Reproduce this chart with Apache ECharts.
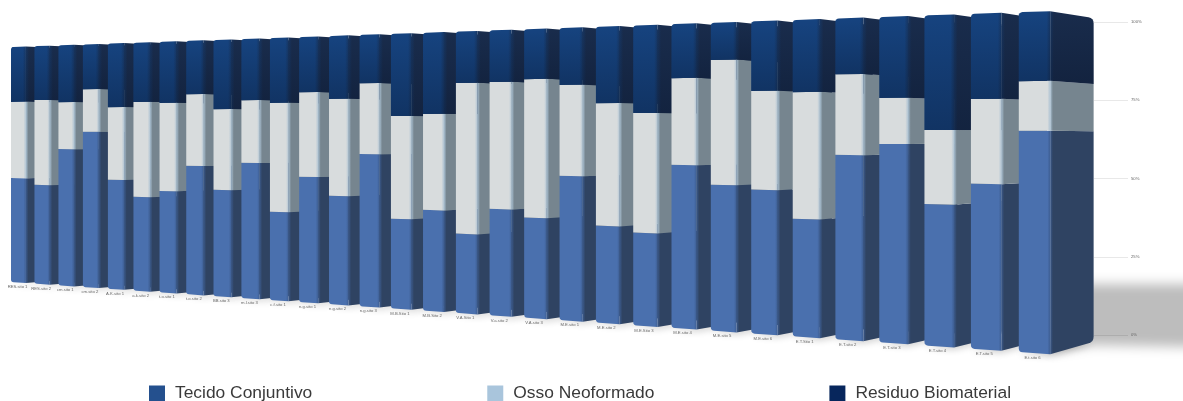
<!DOCTYPE html>
<html>
<head>
<meta charset="utf-8">
<style>html,body{margin:0;padding:0;background:#fff}#chart{width:1183px;height:401px}</style>
<script src="https://cdn.jsdelivr.net/npm/echarts@6/dist/echarts.min.js"></script>
</head>
<body>
<div id="chart"></div>
<script>
// Percent composition of each site
const sites = ['RES.sito 1','RES.sito 2','cm.sito 1','cm.sito 2','A.K.sito 1','a.k.sito 2','t.o.sito 1','t.o.sito 2','BB.sito 3','m.l.sito 3','c.f.sito 1',
  'n.g.sito 1','n.g.sito 2','n.g.sito 3','M.B.Sito 1','M.B.Sito 2','V.A.Sito 1','V.a.sito 2','V.A.sito 3','M.E.sito 1','M.E.sito 2','M.E.Sito 3','M.E.sito 4','M.E.sito 5','M.E.sito 6',
  'E.T.Sito 1','E.T.sito 2','E.T.sito 3','E.T.sito 4','E.T.sito 5','E.t.sito 6'];
const tecido = [44.3,41.6,56.8,64,44.5,37.8,40.5,50.7,41.5,52.2,33.7,47.3,40.4,56.1,32.7,36.3,28.2,37.4,34.7,49.4,32.8,30.9,53.7,47.4,46.1,37.2,57.5,61,42.9,49.3,65.1];
const osso = [32.3,35.7,19.5,17.6,29.6,38.3,35.1,28.3,31.5,24.2,41.5,31.9,36.1,26.1,37.4,34.5,53.5,44.5,48,31.1,41.4,39.9,28.5,40.5,31.6,40,25.1,14.1,22.4,25.3,14.6];
const residuo = [23.4,22.7,23.7,18.4,25.9,23.9,24.4,21,27,23.6,24.8,20.8,23.5,17.8,29.9,29.2,18.3,18.1,17.3,19.5,25.8,29.2,17.8,12.1,22.3,22.8,17.4,24.9,34.7,25.4,20.3];

// Camera: homogeneous projection of (bar position, percent, depth) to the screen
function project(u, v, z) {
  const w = 1 - 0.01028 * u + 0.041 * z;
  return [(11 + 23.12 * u + 74.6 * z) / w, (282 - 1.285 * u - 2.35 * v + 5.58 * z) / w, 1 / w];
}
const FRONT = 0.64;
const FAR = 2200;

function roundCorner(a, b, c, r) {
  const d1 = Math.hypot(a[0] - b[0], a[1] - b[1]), d2 = Math.hypot(c[0] - b[0], c[1] - b[1]);
  const s = [b[0] + (a[0] - b[0]) * r / d1, b[1] + (a[1] - b[1]) * r / d1];
  const e = [b[0] + (c[0] - b[0]) * r / d2, b[1] + (c[1] - b[1]) * r / d2];
  const out = [];
  for (let t = 0; t <= 1.001; t += 0.25) {
    const m = 1 - t;
    out.push([m * m * s[0] + 2 * m * t * b[0] + t * t * e[0], m * m * s[1] + 2 * m * t * b[1] + t * t * e[1]]);
  }
  return out;
}
// Polygon through the corners, rounding those flagged in `rounded`
function outline(pts, rounded, r) {
  const out = [];
  pts.forEach((p, k) => {
    if (rounded[k]) {
      out.push(...roundCorner(pts[(k + pts.length - 1) % pts.length], p, pts[(k + 1) % pts.length], r));
    } else out.push(p);
  });
  return out;
}
function hGrad(x0, x1, stops) {
  return { type: 'linear', x: x0, y: 0, x2: x1, y2: 0, global: true,
    colorStops: stops.map(s => ({ offset: s[0], color: s[1] })) };
}

function stackedData(own, below) {
  return own.map((val, i) => {
    const start = below.reduce((acc, arr) => acc + arr[i], 0);
    return [i, start, start + val];
  });
}

function makeRenderer(look, withLabel) {
  return function (params, api) {
    const cs = params.coordSys, n = sites.length;
    const toPlane = pt => [(pt[0] - cs.x) / cs.width * n - 0.5, (cs.y + cs.height - pt[1]) / cs.height * 100];
    const lo = toPlane(api.coord([api.value(0), api.value(1)]));
    const hi = toPlane(api.coord([api.value(0), api.value(2)]));
    const u = lo[0], v0 = lo[1], v1 = Math.min(hi[1], 100);
    const isBase = v0 < 0.01, isTop = v1 > 99.9;

    const bl = project(u, v0, 0), br = project(u + FRONT, v0, 0);
    const tr = project(u + FRONT, v1, 0), tl = project(u, v1, 0);
    const bb = project(u + FRONT, v0, 1), bt = project(u + FRONT, v1, 1);
    const scale = bl[2];
    const band = (1.6 + scale * 0.8) * look.soft;
    const edgeX = br[0];
    const layer = params.dataIndex * 10;

    const sidePts = outline([bb, bt, tr, br], [isBase, isTop, false, false], 3.6 * scale);
    const frontPts = outline([bl, br, tr, tl], [isBase, false, false, isTop], 2.6 * scale);
    const kids = [{
      type: 'polygon', z2: layer, shape: { points: sidePts },
      style: { fill: hGrad(edgeX, edgeX + band, [[0, look.mid], [1, look.side]]) }
    }, {
      type: 'polygon', z2: layer + 1, shape: { points: frontPts },
      style: { fill: hGrad(edgeX - band, edgeX + 0.5, [[0, look.front], [1, look.mid]]) }
    }];
    if (look.fall) {
      // Darkening towards the lower end of the segment
      const fall = { type: 'linear', x: 0, y: tl[1], x2: 0, y2: bl[1], global: true,
        colorStops: [{ offset: 0, color: 'rgba(5,15,35,0)' }, { offset: 1, color: look.fall }] };
      kids.push({ type: 'polygon', z2: layer, shape: { points: sidePts }, style: { fill: fall } });
      kids.push({ type: 'polygon', z2: layer + 1, shape: { points: frontPts }, style: { fill: fall } });
    }
    if (withLabel) {
      // Contact shadow on the floor, kept under every bar
      const drop = [bl, br, bb, project(u, v0, 1)].map(p => [p[0] - FAR, p[1]]);
      kids.push({
        type: 'polygon', z2: -5, silent: true,
        shape: { points: drop },
        style: { fill: '#fff', shadowColor: 'rgba(0,0,0,0.2)', shadowBlur: 7, shadowOffsetX: FAR, shadowOffsetY: 2 }
      });
      const at = project(u + FRONT * 0.44, 0, 0);
      kids.push({
        type: 'text', z2: layer + 2,
        style: { x: at[0], y: at[1] + 4.5, text: sites[params.dataIndex], fill: '#666',
          fontSize: 4.2, fontFamily: 'Liberation Sans, Arial, sans-serif', align: 'center', verticalAlign: 'middle' }
      });
    }
    return { type: 'group', children: kids };
  };
}

const chart = echarts.init(document.getElementById('chart'), null, { renderer: 'canvas' });
chart.setOption({
  animation: false,
  backgroundColor: '#fff',
  textStyle: { fontFamily: 'Liberation Sans' },
  grid: { left: 1094, width: 34, top: 22, height: 313 },
  xAxis: { type: 'category', data: sites, show: false },
  yAxis: {
    type: 'value', min: 0, max: 100, interval: 25, position: 'right',
    axisLine: { show: false }, axisTick: { show: false },
    splitLine: { show: true, lineStyle: { color: 'rgba(0,0,0,0.09)', width: 1 } },
    axisLabel: { formatter: '{value}%', fontSize: 4.2, color: '#666', margin: 3, fontFamily: 'Liberation Sans, Arial, sans-serif' }
  },
  legend: {
    left: 149, top: 385, padding: 0, itemWidth: 16, itemHeight: 16, itemGap: 175, icon: 'rect',
    textStyle: { fontSize: 17.4, color: '#3a3a3a', fontFamily: 'Liberation Sans', padding: [0, 0, 0, 5] },
    data: ['Tecido Conjuntivo', 'Osso Neoformado', 'Residuo Biomaterial']
  },
  // Blurred floor shadow behind the row of bars; the shape itself stays off the canvas
  graphic: [{
    type: 'polygon', z: -1, silent: true,
    shape: { points: [[1070 - FAR, 284], [1400 - FAR, 284], [1400 - FAR, 351], [1091 - FAR, 345], [1050 - FAR, 352]] },
    style: { fill: '#fff', shadowColor: '#bdbdbd', shadowBlur: 12, shadowOffsetX: FAR }
  }],
  series: [{
    name: 'Tecido Conjuntivo', type: 'custom', itemStyle: { color: '#24508e' },
    data: stackedData(tecido, []), encode: { x: 0, y: [1, 2] },
    renderItem: makeRenderer({ front: '#4a70ae', mid: '#3b5a8c', side: '#2f4362', soft: 1 }, true)
  }, {
    name: 'Osso Neoformado', type: 'custom', itemStyle: { color: '#a9c5dc' },
    data: stackedData(osso, [tecido]), encode: { x: 0, y: [1, 2] },
    renderItem: makeRenderer({ front: '#d8dcdd', mid: '#a9c0d2', side: '#76858f', soft: 1 }, false)
  }, {
    name: 'Residuo Biomaterial', type: 'custom', itemStyle: { color: '#07265c' },
    data: stackedData(residuo, [tecido, osso]), encode: { x: 0, y: [1, 2] },
    renderItem: makeRenderer({ front: '#16437f', mid: '#173560', side: '#192c4c', soft: 1.3, fall: 'rgba(5,15,35,0.3)' }, false)
  }]
});
</script>
</body>
</html>
